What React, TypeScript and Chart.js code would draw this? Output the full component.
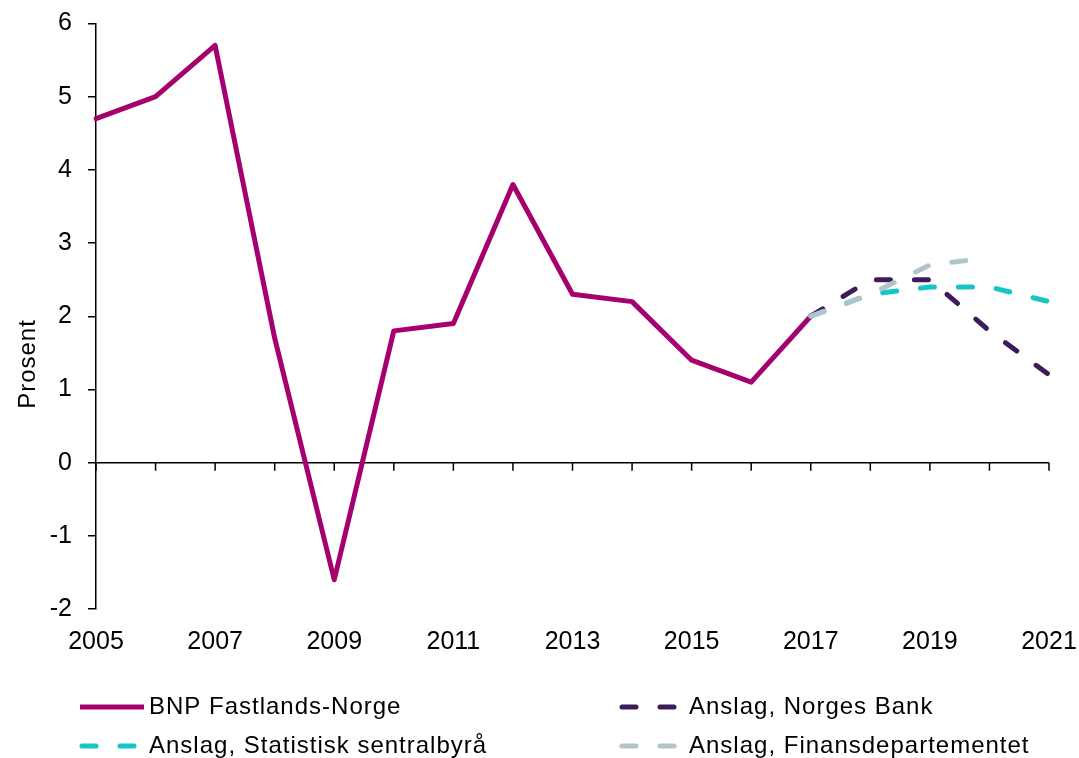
import React, { useEffect, useRef } from 'react';
import { Chart, registerables } from 'chart.js';

Chart.register(...registerables);

const years = ['2005', '2006', '2007', '2008', '2009', '2010', '2011', '2012', '2013', '2014', '2015', '2016', '2017', '2018', '2019', '2020', '2021'];
const bnpFastland = [4.7, 5.0, 5.7, 1.7, -1.6, 1.8, 1.9, 3.8, 2.3, 2.2, 1.4, 1.1, 2.0, null, null, null, null];
const anslagNorgesBank = [null, null, null, null, null, null, null, null, null, null, null, null, 2.0, 2.5, 2.5, 1.8, 1.2];
const anslagSSB = [null, null, null, null, null, null, null, null, null, null, null, null, 2.0, 2.3, 2.4, 2.4, 2.2];
const anslagFinans = [null, null, null, null, null, null, null, null, null, null, null, null, 2.0, 2.3, 2.7, 2.8, null];
const seriesNames = ['BNP Fastlands-Norge', 'Anslag, Norges Bank', 'Anslag, Statistisk sentralbyrå', 'Anslag, Finansdepartementet'];
const yAxisTitle = 'Prosent';
const yMin = -2;
const yMax = 6;

const FONT = "'Liberation Sans', Arial, sans-serif";
const colors = ['#A6006F', '#3D1A5B', '#17C5C5', '#B0C5CA'];

const decorPlugin = {
  id: 'decor',
  beforeDatasetsDraw(chart: any) {
    const { ctx, chartArea, scales } = chart;
    const x = scales.x;
    const y = scales.y;
    const y0 = y.getPixelForValue(0);
    ctx.save();
    ctx.strokeStyle = '#000';
    ctx.lineWidth = 1.5;
    ctx.beginPath();
    ctx.moveTo(chartArea.left, y0);
    ctx.lineTo(chartArea.right, y0);
    x.ticks.forEach((_: any, i: number) => {
      const px = x.getPixelForTick(i);
      ctx.moveTo(px, y0);
      ctx.lineTo(px, y0 + 8);
    });
    ctx.stroke();
    ctx.restore();
  },
  afterDraw(chart: any) {
    const { ctx } = chart;
    ctx.save();
    ctx.fillStyle = '#000';
    ctx.font = `24px ${FONT}`;
    (ctx as any).letterSpacing = '1px';
    ctx.textAlign = 'center';
    ctx.textBaseline = 'middle';
    ctx.translate(28, 364);
    ctx.rotate(-Math.PI / 2);
    ctx.fillText(yAxisTitle, 0, 0);
    ctx.restore();

    const items = [
      { ds: 0, x: 80, y: 707 },
      { ds: 1, x: 620, y: 707 },
      { ds: 2, x: 80, y: 746 },
      { ds: 3, x: 620, y: 746 },
    ];
    ctx.save();
    items.forEach((it) => {
      const ds = chart.data.datasets[it.ds];
      const dashed = ds.borderDash && ds.borderDash.length;
      ctx.strokeStyle = ds.borderColor;
      ctx.lineWidth = ds.borderWidth;
      ctx.lineCap = dashed ? 'round' : 'butt';
      ctx.setLineDash(ds.borderDash || []);
      ctx.beginPath();
      if (dashed) {
        ctx.moveTo(it.x + 2, it.y);
        ctx.lineTo(it.x + 58, it.y);
      } else {
        ctx.moveTo(it.x, it.y);
        ctx.lineTo(it.x + 64, it.y);
      }
      ctx.stroke();
      ctx.setLineDash([]);
      ctx.fillStyle = '#000';
      ctx.font = `24px ${FONT}`;
      (ctx as any).letterSpacing = '1px';
      ctx.textAlign = 'left';
      ctx.textBaseline = 'middle';
      ctx.fillText(ds.label, it.x + 69, it.y);
    });
    ctx.restore();
  },
};

export default function App() {
  const canvasRef = useRef<HTMLCanvasElement | null>(null);

  useEffect(() => {
    const canvas = canvasRef.current;
    if (!canvas) return;
    const dash = [14, 24];
    const common = {
      borderWidth: 5,
      borderCapStyle: 'round',
      borderJoinStyle: 'round',
      pointRadius: 0,
      tension: 0,
    };
    const chart = new Chart(canvas, {
      type: 'line',
      data: {
        labels: years,
        datasets: [
          { ...common, label: seriesNames[0], data: bnpFastland, borderColor: colors[0], backgroundColor: colors[0], order: 4 },
          { ...common, label: seriesNames[1], data: anslagNorgesBank, borderColor: colors[1], backgroundColor: colors[1], borderDash: dash, order: 3 },
          { ...common, label: seriesNames[2], data: anslagSSB, borderColor: colors[2], backgroundColor: colors[2], borderDash: dash, order: 2 },
          { ...common, label: seriesNames[3], data: anslagFinans, borderColor: colors[3], backgroundColor: colors[3], borderDash: dash, order: 1 },
        ],
      },
      options: {
        responsive: false,
        animation: false,
        events: [],
        layout: { padding: { left: 0, right: 30, top: 23.5, bottom: 99 } },
        plugins: {
          legend: { display: false },
          tooltip: { enabled: false },
          title: { display: false },
        },
        scales: {
          x: {
            type: 'category',
            offset: false,
            grid: { display: false },
            border: { display: false },
            afterFit: (scale: any) => {
              scale.height = 50;
              scale.paddingLeft = 0;
              scale.paddingRight = 0;
            },
            ticks: {
              autoSkip: false,
              maxRotation: 0,
              minRotation: 0,
              padding: 10,
              color: '#000',
              font: { family: FONT, size: 25 },
              callback: (_v: any, i: number) => (i % 2 === 0 ? years[i] : ''),
            },
          },
          y: {
            type: 'linear',
            min: yMin,
            max: yMax,
            afterFit: (scale: any) => {
              scale.width = 96;
              scale.paddingTop = 0;
              scale.paddingBottom = 0;
            },
            grid: {
              display: true,
              drawOnChartArea: false,
              drawTicks: true,
              tickLength: 8,
              color: '#000',
              lineWidth: 1.5,
            },
            border: { display: true, color: '#000', width: 1.5 },
            ticks: {
              stepSize: 1,
              padding: 16,
              color: '#000',
              font: { family: FONT, size: 25 },
            },
          },
        },
      },
      plugins: [decorPlugin],
    } as any);
    return () => chart.destroy();
  }, []);

  return (
    <div style={{ position: 'absolute', left: 0, top: 0, width: 1079, height: 758 }}>
      <canvas ref={canvasRef} width={1079} height={758} style={{ display: 'block' }} />
    </div>
  );
}
